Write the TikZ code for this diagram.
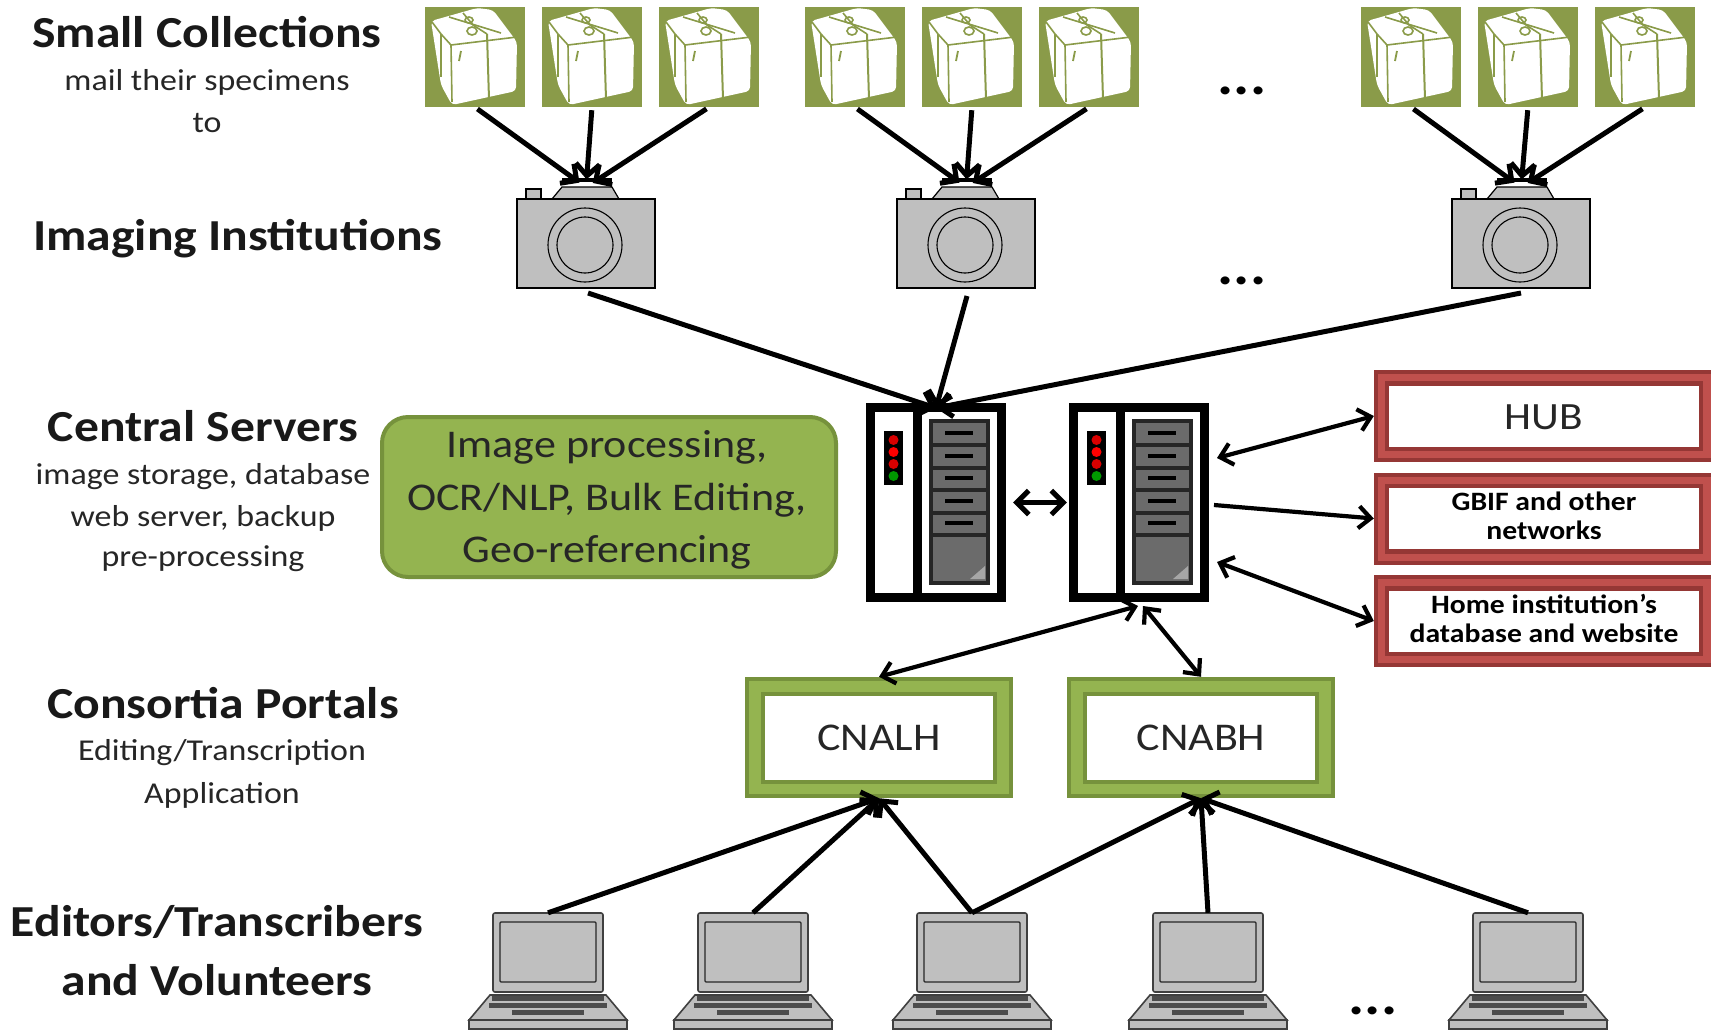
\documentclass[tikz,border=0pt]{standalone}
\usepackage{fontspec}
\setmainfont[FakeStretch=1.12]{Carlito}
\usetikzlibrary{arrows.meta}
\definecolor{olivepk}{HTML}{8A9B49}
\definecolor{greenmid}{HTML}{94B450}
\definecolor{greenedge}{HTML}{76923C}
\definecolor{redmid}{HTML}{C0504D}
\definecolor{rededge}{HTML}{953735}
\definecolor{camgrey}{HTML}{BFBFBF}
\definecolor{drawgrey}{HTML}{6B6B6B}
\tikzset{
  x=1pt,y=-1pt,
  flow/.style={line width=5pt,-{Straight Barb[length=12pt,width=24pt,line width=5pt]}},
  link/.style={line width=4.2pt,-{Straight Barb[length=12pt,width=22pt,line width=4.2pt]}},
  biflow/.style={line width=4.2pt,{Straight Barb[length=12pt,width=22pt,line width=4.2pt]}-{Straight Barb[length=12pt,width=22pt,line width=4.2pt]}},
  pkgbox/.style={minimum width=100pt,minimum height=100pt,inner sep=0pt,fill=olivepk},
  cambox/.style={minimum width=138pt,minimum height=101pt,inner sep=0pt},
  srvbox/.style={minimum width=140pt,minimum height=199pt,inner sep=0pt},
  lapbox/.style={minimum width=110pt,minimum height=79pt,inner sep=0pt},
  redbox/.style={minimum width=337pt,inner sep=0pt},
  head/.style={font=\fontsize{44.3}{46}\selectfont\bfseries,inner sep=0pt,text=black!90},
  sub/.style={font=\fontsize{30.3}{34}\selectfont,inner sep=0pt,text=black!85},
  proctxt/.style={font=\fontsize{39.3}{42}\selectfont,inner sep=0pt,text=black!85},
  boldsmall/.style={font=\fontsize{26.5}{29}\selectfont\bfseries,inner sep=0pt,align=center},
  dots/.style={font=\fontsize{54}{54}\selectfont\bfseries,inner sep=0pt},
  pkgart/.pic={
    \fill[white,rounded corners=4pt] (6,14)--(52,1)--(68,3)--(92,35)--(91,84)--(27,98)--(16,78)--cycle;
    \draw[olivepk,line width=1.6pt] (7,15)--(16,27)--(26,38)--(92,30);
    \draw[olivepk,line width=1.6pt] (26,38)--(27,95);
    \draw[olivepk,line width=2pt] (62,27)--(64,92);
    \draw[olivepk,line width=1.6pt] (16,27)--(16,70);
    \draw[olivepk,line width=1.6pt] (24,10)--(76,26);
    \draw[olivepk,line width=1.6pt] (38,6)--(48,18)--(62,27);
    \draw[olivepk,line width=1.6pt] (47,24) ellipse (5 and 4);
    \draw[olivepk,line width=1.6pt] (44,13) ellipse (4 and 3);
    \draw[olivepk,line width=1.8pt] (36,44)--(34,54);
  },
  campic/.pic={
    \filldraw[fill=camgrey,draw=black,line width=1.2pt] (-60,-99) rectangle (-45,-89);
    \filldraw[fill=camgrey,draw=black,line width=1.2pt] (-34,-89)--(-24,-101)--(26,-101)--(33,-89)--cycle;
    \draw[black,line width=3.5pt] (-24,-108)--(26,-108);
    \filldraw[fill=camgrey,draw=black,line width=1.4pt] (-69,-89) rectangle (69,0);
    \draw[line width=1.1pt] (-1,-43) circle (37);
    \draw[line width=1.1pt] (-1,-43) circle (28);
  },
  srvpic/.pic={
    \filldraw[fill=white,draw=black,line width=9pt] (4.5,4.5) rectangle (135.5,194.5);
    \fill[black] (47,0) rectangle (56,199);
    \filldraw[fill=drawgrey,draw=black!85,line width=4pt] (65,18) rectangle (122,180);
    \foreach \yy in {40,63,85,108,130}{
      \fill[black!85] (65,\yy) rectangle (122,\yy+4);
    }
    \foreach \yy in {30,53,75,98,120}{
      \draw[black,line width=3.5pt] (79,\yy)--(107,\yy);
    }
    \fill[black] (18,28) rectangle (37,82);
    \fill[red!85!black] (27.5,37) circle (5);
    \fill[red] (27.5,49) circle (5);
    \fill[red!85!black] (27.5,61) circle (5);
    \fill[green!60!black] (27.5,73) circle (5);
    \fill[black!35] (119,163)--(119,176)--(104,176)--cycle;
  },
  lappic/.pic={
    \filldraw[fill=camgrey,draw=black!75,line width=1.6pt] (-79,116)--(-79,107)--(79,107)--(79,116)--cycle;
    \filldraw[fill=camgrey,draw=black!75,line width=1.6pt] (-79,107)--(-58,82)--(58,82)--(79,107)--cycle;
    \fill[black!70] (-56,83) rectangle (56,88);
    \fill[black!70] (-59,90) rectangle (59,95);
    \fill[black!70] (-36,97) rectangle (36,102);
    \filldraw[fill=camgrey,draw=black!75,line width=1.6pt,rounded corners=2pt] (-55,0) rectangle (55,79);
    \draw[black!85,line width=1.3pt,rounded corners=1pt] (-48,9) rectangle (48,69);
  }
}
\begin{document}
\begin{tikzpicture}
\useasboundingbox (0,0) rectangle (1711,1029);
\fill[white] (0,0) rectangle (1711,1029);

% packages
\foreach \n/\xx in {a1/425,a2/542,a3/659,b1/805,b2/922,b3/1039,c1/1361,c2/1478,c3/1595}{
  \node[pkgbox] (p\n) at (\xx+50,57) {};
  \pic at (\xx,7) {pkgart};
}
% cameras
\foreach \n/\xx in {a/586,b/966,c/1521}{
  \node[cambox] (cam\n) at (\xx,238) {};
  \pic at (\xx,288) {campic};
}
% servers
\node[srvbox] (srvA) at (936,502.5) {};
\pic at (866,403) {srvpic};
\node[srvbox] (srvB) at (1139,502.5) {};
\pic at (1069,403) {srvpic};

% green process box
\node[draw=greenedge,fill=greenmid,line width=4pt,rounded corners=26pt,minimum width=454pt,minimum height=160pt,inner sep=0pt] (proc) at (609,497) {};
\node[proctxt] (proc1) at (607,447) {Image processing,};
\node[proctxt] (proc2) at (607,500) {OCR/NLP, Bulk Editing,};
\node[proctxt] (proc3) at (607,552) {Geo-referencing};

% red boxes
\foreach \n/\yy in {hub/416,gbif/518.5,home/621}{
  \node[redbox,minimum height=92pt,fill=rededge] (\n) at (1374+168.5,\yy) {};
  \fill[redmid] (1378,\yy-42) rectangle (1711,\yy+42);
  \fill[rededge] (1385,\yy-35) rectangle (1703,\yy+35);
  \fill[white] (1389,\yy-30.5) rectangle (1699,\yy+30.5);
}
\node[font=\fontsize{38.6}{40}\selectfont,inner sep=0pt,text=black!85] (hubtxt) at (1544,417) {HUB};
\node[boldsmall] (gbiftxt) at (1544,516) {GBIF and other\\networks};
\node[boldsmall] (hometxt) at (1544,618) {Home institution’s\\database and website};

% portals
\foreach \n/\lab/\xx in {cnalh/CNALH/879,cnabh/CNABH/1201}{
  \node[minimum width=268pt,minimum height=121pt,inner sep=0pt,fill=greenedge] (\n) at (\xx,737.5) {};
  \fill[greenmid] (\xx-130,737.5-56.5) rectangle (\xx+130,737.5+56.5);
  \fill[greenedge] (\xx-118,737.5-46) rectangle (\xx+118,737.5+46);
  \fill[white] (\xx-114,737.5-42) rectangle (\xx+114,737.5+42);
  \node[proctxt] at (\xx,738) {\lab};
}

% laptops
\foreach \n/\xx in {a/548,b/753,c/972,d/1208,e/1528}{
  \node[lapbox] (lap\n) at (\xx,952.5) {};
  \pic at (\xx,913) {lappic};
}

% labels
\node[head] (t1) at (207,32) {Small Collections};
\node[sub] (t1a) at (207,82) {mail their specimens};
\node[sub] (t1b) at (207,123) {to};
\node[head] (t2) at (238,239) {Imaging Institutions};
\node[head] (t3) at (203,426) {Central Servers};
\node[sub] (t3a) at (203,477) {image storage, database};
\node[sub] (t3b) at (203,518) {web server, backup};
\node[sub] (t3c) at (203,559) {pre-processing};
\node[head] (t4) at (223,703) {Consortia Portals};
\node[sub] (t4a) at (222,753) {Editing/Transcription};
\node[sub] (t4b) at (222,795) {Application};
\node[head] (t5) at (217,922) {Editors/Transcribers};
\node[head] (t5a) at (217,980) {and Volunteers};
\node[dots] (d1) at (1242,91) {...};
\node[dots] (d2) at (1242,281) {...};
\node[dots] (d3) at (1373,1011) {...};

% ports
\coordinate (srvBu) at (1217,458);
\coordinate (srvBm) at (1214,505);
\coordinate (srvBl) at (1217,562);
\coordinate (hubW) at (hub.west);
\coordinate (gbifW) at (gbif.west);
\coordinate (homeW) at (home.west);
\coordinate (srvBs1) at (1138,606);
\coordinate (srvBs2) at (1143,606);
\coordinate (srvAin) at (936,408);
\coordinate (camaOut) at (588,293);
\coordinate (cambOut) at (967,296);
\coordinate (camcOut) at (1521,293);

% connectors
\foreach \g/\c in {a/a,b/b,c/c}{
  \draw[flow,shorten <=3pt,shorten >=8pt] (p\g1.south) -- (cam\c.north);
  \draw[flow,shorten <=3pt,shorten >=8pt] (p\g2.south) -- (cam\c.north);
  \draw[flow,shorten <=3pt,shorten >=8pt] (p\g3.south) -- (cam\c.north);
}
\draw[flow] (camaOut) -- (srvAin);
\draw[flow] (cambOut) -- (srvAin);
\draw[flow] (camcOut) -- (srvAin);
\draw[flow,shorten <=7pt,shorten >=2pt,{Straight Barb[length=12pt,width=24pt,line width=5pt]}-{Straight Barb[length=12pt,width=24pt,line width=5pt]}] (srvA.east) -- (srvB.west);
\draw[biflow] (srvBu) -- (hubW);
\draw[link] (srvBm) -- (gbifW);
\draw[biflow] (srvBl) -- (homeW);
\draw[biflow] (srvBs1) -- (cnalh.north);
\draw[biflow] (srvBs2) -- (cnabh.north);
\foreach \l/\p in {a/cnalh,b/cnalh,c/cnalh,c/cnabh,d/cnabh,e/cnabh}{
  \draw[flow] (lap\l.north) -- (\p.south);
}
\end{tikzpicture}
\end{document}
